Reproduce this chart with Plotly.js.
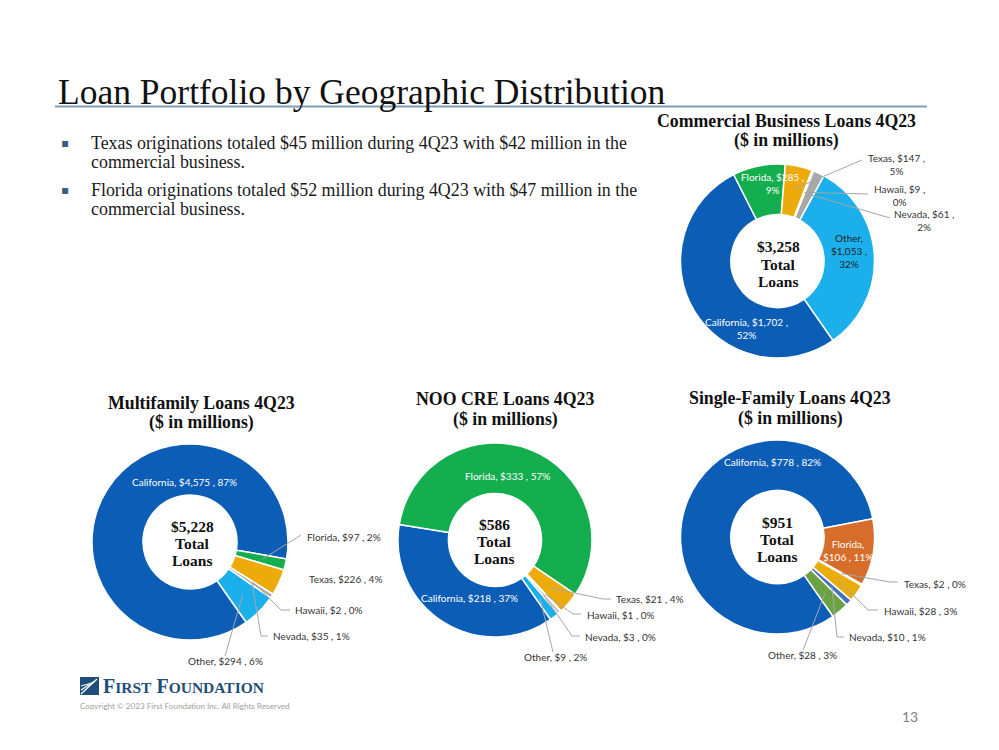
<!DOCTYPE html>
<html>
<head>
<meta charset="utf-8">
<script src="https://cdn.plot.ly/plotly-3.0.1.min.js"></script>
<style>
  html, body { margin: 0; padding: 0; background: #ffffff; }
  #chart { width: 999px; height: 750px; }
</style>
</head>
<body>
<div id="chart"></div>
<script>
// ---------------- DATA ----------------
const regions = ['California', 'Florida', 'Texas', 'Hawaii', 'Nevada', 'Other'];

const commercialValues = [1702, 285, 147, 9, 61, 1053];
const commercialPct    = [52, 9, 5, 0, 2, 32];
const multifamilyValues = [4575, 97, 226, 2, 35, 294];
const multifamilyPct    = [87, 2, 4, 0, 1, 6];
const nooValues = [218, 333, 21, 1, 3, 9];
const nooPct    = [37, 57, 4, 0, 0, 2];
const singleValues = [778, 106, 2, 28, 10, 28];
const singlePct    = [82, 11, 0, 3, 1, 3];

const chartTitles = [
  'Commercial Business Loans 4Q23',
  'Multifamily Loans 4Q23',
  'NOO CRE Loans 4Q23',
  'Single-Family Loans 4Q23'
];
const subTitle = '($ in millions)';
const totalLabels = ['$3,258', '$5,228', '$586', '$951'];

const pageTitle = 'Loan Portfolio by Geographic Distribution';
const bullets = [
  ['Texas originations totaled $45 million during 4Q23 with $42 million in the', 'commercial business.'],
  ['Florida originations totaled $52 million during 4Q23 with $47 million in the', 'commercial business.']
];
const copyrightText = 'Copyright © 2023 First Foundation Inc. All Rights Reserved';
const pageNumber = '13';

// ---------------- STYLE / LAYOUT ----------------
const W = 999, H = 750;
const X = p => p / W;
const Y = p => 1 - p / H;

const BLUE = '#0B5DB6', GREEN = '#14AE4E', GOLD = '#ECAB0B', GRAY = '#A8A8A8', LBLUE = '#1BB0EC';
const colorsA = [BLUE, GREEN, GOLD, GRAY, GRAY, LBLUE];
const colorsSF = [BLUE, '#D66D2A', GRAY, '#E9AC0B', '#4470C0', '#6BA344'];

const LABEL_FONT = 'Lato, "Noto Sans", sans-serif';
const SERIF = '"Liberation Serif", "Times New Roman", serif';
const LEADER = '#A6A6A6';

function fmt(v) { return '$' + v.toLocaleString('en-US'); }
function labelText(name, v, p, mode) {
  if (mode === 'two') return name + ', ' + fmt(v) + ' ,<br>' + p + '%';
  if (mode === 'three') return name + ',<br>' + fmt(v) + ' ,<br>' + p + '%';
  if (mode === 'name') return name + ',<br>' + fmt(v) + ' , ' + p + '%';
  return name + ', ' + fmt(v) + ' , ' + p + '%';
}

const charts = [
  { values: commercialValues, pct: commercialPct, colors: colorsA, cx: 777.5, cy: 261, r: 97,
    title: [786, 121], center: [778, 264],
    labels: [
      { i: 0, mode: 'two', x: 746, y: 328, color: '#ffffff', inside: true },
      { i: 1, mode: 'two', x: 772, y: 184, color: '#ffffff', inside: true },
      { i: 5, mode: 'three', x: 849, y: 251, color: '#222222', inside: true },
      { i: 2, mode: 'two', x: 896, y: 164, align: 'center', pts: [[862, 160]] },
      { i: 3, mode: 'two', x: 899, y: 195, align: 'center', pts: [[868, 194]] },
      { i: 4, mode: 'two', x: 924, y: 221, align: 'center', pts: [[890, 218]] }
    ] },
  { values: multifamilyValues, pct: multifamilyPct, colors: colorsA, cx: 190, cy: 542, r: 98,
    title: [201, 403], center: [192, 543],
    labels: [
      { i: 0, mode: 'one', x: 184, y: 482, color: '#ffffff', inside: true },
      { i: 1, mode: 'one', x: 305, y: 537, align: 'left', pts: [[301, 535]] },
      { i: 2, mode: 'one', x: 307, y: 579, align: 'left', pts: [] },
      { i: 3, mode: 'one', x: 293, y: 610, align: 'left', pts: [[290, 610], [281, 610]] },
      { i: 4, mode: 'one', x: 271, y: 636, align: 'left', pts: [[268, 636], [261, 636]] },
      { i: 5, mode: 'one', x: 225, y: 661, align: 'center', pts: [[225, 656]] }
    ] },
  { values: nooValues, pct: nooPct, colors: colorsA, cx: 495, cy: 540, r: 97,
    title: [505, 399], center: [494, 541],
    labels: [
      { i: 0, mode: 'one', x: 469, y: 598, color: '#ffffff', inside: true },
      { i: 1, mode: 'one', x: 507, y: 476, color: '#ffffff', inside: true },
      { i: 2, mode: 'one', x: 614, y: 599, align: 'left', pts: [[611, 599], [603, 599]] },
      { i: 3, mode: 'one', x: 585, y: 615, align: 'left', pts: [[581, 614], [573, 614]] },
      { i: 4, mode: 'one', x: 583, y: 637, align: 'left', pts: [[580, 636], [572, 636]] },
      { i: 5, mode: 'one', x: 555, y: 657, align: 'center', pts: [[553, 652]] }
    ] },
  { values: singleValues, pct: singlePct, colors: colorsSF, cx: 777.5, cy: 537, r: 97,
    title: [790, 398], center: [777, 539],
    labels: [
      { i: 0, mode: 'one', x: 772, y: 462, color: '#ffffff', inside: true },
      { i: 1, mode: 'name', x: 848, y: 550, color: '#ffffff', inside: true },
      { i: 2, mode: 'one', x: 902, y: 584, align: 'left', pts: [[898, 582], [890, 582]] },
      { i: 3, mode: 'one', x: 882, y: 611, align: 'left', pts: [[878, 610], [868, 610]] },
      { i: 4, mode: 'one', x: 847, y: 637, align: 'left', pts: [[844, 637], [837, 637]] },
      { i: 5, mode: 'one', x: 802, y: 655, align: 'center', pts: [[803, 650]] }
    ] }
];

const ROTATION = 145;
const HOLE = 0.48;

const traces = [];
const annotations = [];
const shapes = [];

function txt(x, y, text, font, xanchor, extra) {
  annotations.push(Object.assign({
    xref: 'paper', yref: 'paper', x: X(x), y: Y(y), xanchor: xanchor || 'center', yanchor: 'middle',
    text: text, showarrow: false, font: font
  }, extra || {}));
}

charts.forEach((c, k) => {
  traces.push({
    type: 'pie',
    values: c.values,
    labels: regions,
    sort: false,
    direction: 'clockwise',
    rotation: ROTATION,
    hole: HOLE,
    textinfo: 'none',
    hoverinfo: 'label+value+percent',
    showlegend: false,
    marker: { colors: c.colors, line: { color: '#ffffff', width: 1.5 } },
    domain: { x: [X(c.cx - c.r), X(c.cx + c.r)], y: [Y(c.cy + c.r), Y(c.cy - c.r)] }
  });

  // slice mid angles from data
  const total = c.values.reduce((a, b) => a + b, 0);
  let cum = 0;
  const mids = c.values.map(v => { const m = ROTATION + 360 * (cum + v / 2) / total; cum += v; return m; });

  const titleFont = { family: SERIF, size: 17.8, color: '#111111' };
  txt(c.title[0], c.title[1], '<b>' + chartTitles[k] + '</b>', titleFont);
  txt(c.title[0], c.title[1] + 20, '<b>' + subTitle + '</b>', titleFont);

  const cFont = { family: SERIF, size: 15.5, color: '#111111' };
  txt(c.center[0], c.center[1] - 17, '<b>' + totalLabels[k] + '</b>', cFont);
  txt(c.center[0], c.center[1], '<b>Total</b>', cFont);
  txt(c.center[0], c.center[1] + 17, '<b>Loans</b>', cFont);

  c.labels.forEach(L => {
    const t = labelText(regions[L.i], c.values[L.i], c.pct[L.i], L.mode);
    txt(L.x, L.y, t, { family: LABEL_FONT, size: 10, color: L.color || '#333333' },
      L.inside ? 'center' : (L.align || 'center'), { align: L.inside ? 'center' : (L.align || 'center') });
    if (!L.inside && L.pts && L.pts.length) {
      const a = mids[L.i] * Math.PI / 180;
      const rt = c.r * 0.76;
      const tip = [c.cx + rt * Math.sin(a), c.cy - rt * Math.cos(a)];
      const pts = L.pts.concat([tip]);
      for (let j = 0; j < pts.length - 1; j++) {
        shapes.push({ type: 'line', xref: 'paper', yref: 'paper',
          x0: X(pts[j][0]), y0: Y(pts[j][1]), x1: X(pts[j + 1][0]), y1: Y(pts[j + 1][1]),
          line: { color: LEADER, width: 1 } });
      }
    }
  });
});

// page title
txt(56, 92, pageTitle, { family: SERIF, size: 35.5, color: '#111111' }, 'left');
shapes.push({ type: 'line', xref: 'paper', yref: 'paper', x0: X(55), x1: X(927), y0: Y(106.5), y1: Y(106.5),
  line: { color: '#7F9BB5', width: 2 } });

// bullets
const bulletY = [143, 190];
bullets.forEach((b, i) => {
  txt(59, bulletY[i], '▪', { family: 'DejaVu Sans', size: 12, color: '#3A5F86' }, 'left');
  b.forEach((line, j) => {
    txt(89, bulletY[i] + j * 19, line, { family: SERIF, size: 17.9, color: '#1a1a1a' }, 'left');
  });
});

// footer logo
shapes.push({ type: 'rect', xref: 'paper', yref: 'paper', x0: X(80), x1: X(99), y0: Y(695), y1: Y(677),
  fillcolor: '#1F4E79', line: { width: 0 } });
[[81, 694, 97, 679], [81, 690, 95, 681], [81, 686, 92, 683]].forEach(s => {
  shapes.push({ type: 'line', xref: 'paper', yref: 'paper', x0: X(s[0]), y0: Y(s[1]), x1: X(s[2]), y1: Y(s[3]),
    line: { color: '#ffffff', width: 1.2 } });
});
txt(101, 686, '<b>F<span style="font-size:15.5px">IRST</span> F<span style="font-size:15.5px">OUNDATION</span></b>',
  { family: SERIF, size: 20, color: '#1F4E79' }, 'left');
txt(78, 706, copyrightText, { family: LABEL_FONT, size: 8.1, color: '#A0A0A0' }, 'left');
txt(910, 716, pageNumber, { family: LABEL_FONT, size: 14, color: '#808080' });

const layout = {
  width: W, height: H,
  margin: { l: 0, r: 0, t: 0, b: 0 },
  paper_bgcolor: '#ffffff', plot_bgcolor: '#ffffff',
  showlegend: false,
  annotations: annotations,
  shapes: shapes
};

Plotly.newPlot('chart', traces, layout, { displayModeBar: false, staticPlot: true });
</script>
</body>
</html>
